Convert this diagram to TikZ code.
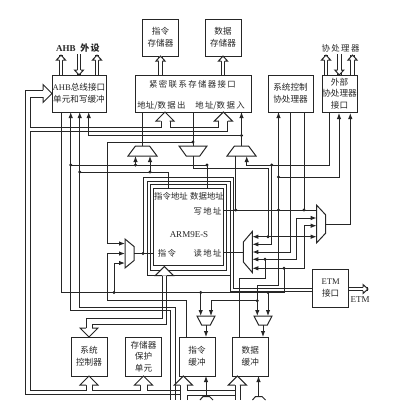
\documentclass[tikz,border=0pt]{standalone}
\usepackage{fontspec}
\setmainfont{Liberation Serif}
\newfontfamily\cjk{Noto Sans CJK SC}
\usepackage{tikz}
\usetikzlibrary{positioning}
\usetikzlibrary{calc}
\usetikzlibrary{arrows.meta}
\usetikzlibrary{shapes.geometric}

\tikzset{
    wire/.style={draw=black!85, line width=1pt},
    wirearrow/.style={wire, -{Latex[length=6pt,width=4.5pt]}},
    wireboth/.style={wire, {Latex[length=6pt,width=4.5pt]}-{Latex[length=6pt,width=4.5pt]}},
    hollowshaft/.style={wire, double, double distance=2.5pt},
    blockbox/.style={wire, rectangle, inner sep=0pt, outer sep=0pt, align=center, text=black!85, font=\cjk\fontsize{8.6}{11.6}\selectfont},
    lab/.style={inner sep=0pt, outer sep=0pt, align=center, text=black!85, font=\cjk\fontsize{8.4}{11}\selectfont},
    junct/.style={circle, fill=black!90, inner sep=0pt, outer sep=0pt, minimum size=3.2pt},
    muxbox/.style={wire, trapezium, trapezium stretches=true, inner sep=1pt, outer sep=0pt, trapezium left angle=62, trapezium right angle=62},
    bigtip/.pic={\draw[wire, fill=white, line join=miter] (-#1,9) -- (-9,9) -- (0,0) -- (9,9) -- (#1,9);},
    smalltip/.pic={\draw[wire, fill=white, line join=miter] (-1.75,5) -- (-4.5,5) -- (0,0) -- (4.5,5) -- (1.75,5);},
}

\begin{document}
\begin{tikzpicture}[x=1pt, y=-1pt]
    \useasboundingbox (0,0) rectangle (415,400);

    % blocks
    \node[blockbox, minimum width=54pt, minimum height=37pt] (ahb) at (79,93.5) {{\rmfamily AHB}总线接口\\单元和写缓冲};
    \node[blockbox, minimum width=116pt, minimum height=37pt, right=29pt of ahb] (tcm) {};
    \node[blockbox, minimum width=45pt, minimum height=37pt, right=17pt of tcm] (syscp) {系统控制\\协处理器};
    \node[blockbox, minimum width=35pt, minimum height=37pt, right=9pt of syscp] (extcp) {外部\\协处理器\\接口};
    \node[blockbox, minimum width=36pt, minimum height=37pt] (imem) at (160.5,37.5) {指令\\存储器};
    \node[blockbox, minimum width=36pt, minimum height=37pt, right=26.5pt of imem] (dmem) {数据\\存储器};
    \node[blockbox, minimum width=70pt, minimum height=77pt] (arm) at (188,226.5) {};
    \node[blockbox, minimum width=36pt, minimum height=39pt] (sysctl) at (89,356.5) {系统\\控制器};
    \node[blockbox, minimum width=36pt, minimum height=39pt, right=18.5pt of sysctl] (mpu) {存储器\\保护\\单元};
    \node[blockbox, minimum width=36pt, minimum height=39pt, right=17.5pt of mpu] (icache) {指令\\缓冲};
    \node[blockbox, minimum width=36pt, minimum height=39pt, right=17.3pt of icache] (dcache) {数据\\缓冲};
    \node[blockbox, minimum width=36pt, minimum height=38pt] (etm) at (330.7,288) {{\rmfamily ETM}\\接口};

    % labels
    \node[lab, font=\rmfamily\bfseries\fontsize{9}{11}\selectfont] (ahblab) at (78,48) {AHB\ \ {\cjk 外\,设}};
    \node[lab] (cplab) at (340.5,48) {协\,处\,理\,器};
    \node[lab] (tcmlab) at (192.5,84) {紧\,密\,联\,系\,存\,储\,器\,接\,口};
    \node[lab] (tcmout) at (161.5,106) {地址/数\,据\,出};
    \node[lab] (tcmin) at (220,106) {地\,址/数\,据\,入};
    \node[lab] (armia) at (171,196) {指令地址};
    \node[lab] (armda) at (207,196) {数据地址};
    \node[lab] (armwr) at (207.5,211) {写\,地\,址};
    \node[lab, font=\rmfamily\fontsize{9}{11}\selectfont] (armname) at (189,235) {ARM9E-S};
    \node[lab] (armins) at (167,253) {指\,令};
    \node[lab] (armrd) at (207.5,253) {读\,地\,址};
    \node[lab, font=\rmfamily\fontsize{9}{12}\selectfont] (etmlab) at (360,299.5) {ETM};

    % muxes
    \node[muxbox, minimum width=29pt, minimum height=10pt] (mux1) at (142.5,151) {};
    \node[muxbox, minimum width=28pt, minimum height=10pt, rotate=180] (mux2) at (193,151) {};
    \node[muxbox, minimum width=29pt, minimum height=10pt] (mux3) at (241.5,151) {};
    \node[muxbox, minimum width=29pt, minimum height=9pt, rotate=-90] (muxl) at (129.5,253.5) {};
    \node[muxbox, minimum width=41pt, minimum height=9pt, rotate=90] (muxr) at (247.8,252) {};
    \node[muxbox, minimum width=37.5pt, minimum height=9pt, rotate=-90] (muxe) at (321.2,224) {};
    \node[muxbox, minimum width=18pt, minimum height=9pt, rotate=180] (muxi) at (206,320.5) {};
    \node[muxbox, minimum width=18pt, minimum height=9pt, rotate=180] (muxd) at (263,320.5) {};

    % junctions
    \node[junct] (ja) at (70.7,165) {};
    \node[junct] (jb) at (135.5,165) {};
    \node[junct] (jc) at (207,165) {};
    \node[junct] (jd) at (79.7,172) {};
    \node[junct] (je) at (150,172) {};
    \node[junct] (jf) at (193,142) {};
    \node[junct] (jg) at (241.5,135.5) {};
    \node[junct] (jh) at (271.7,165) {};
    \node[junct] (ji) at (278.5,177) {};
    \node[junct] (jk) at (143,253.5) {};
    \node[junct] (jl) at (114,292.5) {};
    \node[junct] (jm) at (200.7,292.5) {};
    \node[junct] (jn) at (268,292.5) {};
    \node[junct] (jo) at (257.3,300.7) {};
    \node[junct] (jp) at (235.7,210) {};
    \node[junct] (jq) at (278.5,210) {};
    \node[junct] (jr) at (304,210) {};
    \node[junct] (js) at (268,236.7) {};
    \node[junct] (jt) at (265,259.3) {};
    \node[junct] (ju) at (284,268.3) {};

    % free ends
    \coordinate (muxla) at (muxl.south |- 0,243.5);
    \coordinate (muxlb) at (muxl.south);
    \coordinate (muxlc) at (muxl.south |- 0,263);
    \coordinate (muxra) at (muxr.south |- js);
    \coordinate (muxrb) at (muxr.south |- 0,244.3);
    \coordinate (muxrc) at (muxr.south);
    \coordinate (muxrd) at (muxr.south |- jt);
    \coordinate (muxre) at (muxr.south |- ju);
    \coordinate (muxea) at (muxe.south |- 0,218);
    \coordinate (muxeb) at (muxe.south |- 0,225.7);
    \coordinate (muxec) at (muxe.south |- js);
    \coordinate (muxew) at (muxe.south |- jp);
    \coordinate (etmb) at (etm.west |- 0,291);
    \coordinate (cuta) at (170.7,400);
    \coordinate (cutb) at (175.3,400);
    \coordinate (cutc) at (180,400);
    \coordinate (cutd) at (187,400);
    \coordinate (cute) at (235,400);
    \coordinate (cutf) at (240,400);
    \coordinate (cutg) at (206,396.5);
    \coordinate (cuth) at (258.5,396.5);
    \coordinate (tipahb) at (ahb.west);
    \coordinate (tipta) at (165,112);
    \coordinate (tiptb) at (223.3,112);
    \coordinate (tiparm) at (164.3,266.5);
    \coordinate (tipctl) at (89,337);
    \coordinate (tipsys) at (89,376);
    \coordinate (tipmpu) at (143.5,376);
    \coordinate (tipic) at (183.3,376);
    \coordinate (tipdc) at (237.3,376);

    % core frames
    \draw[wire] (150,184) rectangle (226.5,270);
    \draw[wire] (147,181) rectangle (230,275);
    \draw[wire] (230,275) |- (etmb);
    \draw[wire] (muxl.north) -- (arm.west |- muxl.north);
    \draw[wire] (jk.center) -- (143,177) -| (233,288) -- (etm.west);

    % buses
    \draw[wire] (43,90) -- (25,90) -- (25,394) -- (180,394);
    \draw[wire] (43,97) -- (30,97) -- (30,127) -- (161,127) -- (161,121);
    \draw[wire] (170,121) -- (170,127) -- (218,127) -- (218,121);
    \draw[wire] (86,385) -- (86,390) -- (30,390) -- (30,131) -- (227,131) -- (227,121);
    \draw[wire] (92,385) -- (92,390) -- (140,390) -- (140,385);
    \draw[wire] (147,385) -- (147,390) -- (180,390);
    \draw[wire] (180,385) -- (cutc);
    \draw[wire] (187,385) -- (187,390) -- (235,390);
    \draw[wire] (cutd) -- (187,395) -- (235,395);
    \draw[wire] (235,385) -- (cute);
    \draw[wire] (240,385) -- (cutf);
    \draw[wire] (162,276) -- (162,318.5) -- (86,318.5) -- (86,328);
    \draw[wire] (166.7,276) -- (166.7,324) -- (92,324) -- (92,328);

    % wires
    \draw[wire] (ahb.south -| 61.7,0) |- (jn.center) -| (ju.center);
    \draw[wirearrow] (ja.center) -- (ja |- ahb.south);
    \draw[wirearrow] (jd.center) -- (jd |- ahb.south);
    \draw[wire] (ja.center) -- (70.7,310) -| (cuta);
    \draw[wire] (jd.center) -- (79.7,307) -| (cutb);
    \draw[wirearrow] (jg.center) -| (88.7,112);
    \draw[wire] (ja.center) -- (jc.center);
    \draw[wire] (jd.center) -| (arm.north -| 168,0);
    \draw[wirearrow] (jb.center) -- (jb |- mux1.south);
    \draw[wirearrow] (je.center) -- (je |- mux1.south);
    \draw[wire] (mux1.north) -- (mux1 |- tcm.south);
    \draw[wire] (mux2 |- tcm.south) -- (mux2.south);
    \draw[wire] (jc.center) -- (jc |- arm.north);
    \draw[wire] (mux2.north) |- (268,168.5) -- (js.center);
    \draw[wirearrow] (jf.center) -- (107,142) |- (muxla);
    \draw[wirearrow] (186.7,338) |- (107,300.7) |- (muxlb);
    \draw[wirearrow] (jl.center) |- (muxlc);
    \draw[wirearrow] (mux3.north) -- (mux3 |- tcm.south);
    \draw[wire] (jp.center) -- (235.7,156);
    \draw[wirearrow] (329,113) |- (246.7,165) -- (246.7,156);
    \draw[wirearrow] (jh.center) |- (muxrb);
    \draw[wirearrow] (ji.center) -| (339,113);
    \draw[wirearrow] (ji.center) -- (ji |- syscp.south);
    \draw[wirearrow] (ji.center) -- (278.5,285) -| (257.3,316);
    \draw[wirearrow] (jo.center) -| (211,316);
    \draw[wirearrow] (jm.center) -- (jm |- muxi.south);
    \draw[wirearrow] (jn.center) -- (jn |- muxd.south);
    \draw[wirearrow] (muxi.north) -- (muxi |- icache.north);
    \draw[wirearrow] (muxd.north) -- (muxd |- dcache.north);
    \draw[wirearrow] (cutg) -- (cutg |- icache.south);
    \draw[wirearrow] (cuth) -- (cuth |- dcache.south);
    \draw[wire] (arm.east |- jp) -- (muxew);
    \draw[wire] (jr.center) -- (jr |- syscp.south);
    \draw[wirearrow] (290.5,113) |- (muxrc);
    \draw[wire] (muxr.north) -- (arm.east |- muxr.north);
    \draw[wireboth] (muxra) -- (muxec);
    \draw[wireboth] (muxrd) -- (296.7,259.3) |- (muxea);
    \draw[wireboth] (muxre) -- (304,268.3) |- (muxeb);
    \draw[wire] (jt.center) -- (265,278) -| (239.3,338);
    \draw[wirearrow] (muxe.north) -| (350.3,113);

    % bottom stubs
    \draw[wire] (200,400) -- (203,396.5) -- (209.5,396.5) -- (213,400);
    \draw[wire] (252.5,400) -- (255.5,396.5) -- (262,396.5) -- (265.5,400);

    % hollow arrows
    \draw[hollowshaft] (ahb.north -| 61,0) -- (61,55);
    \pic at (61,55) {smalltip};
    \draw[hollowshaft] (ahb.north -| 97,0) -- (97,55);
    \pic at (97,55) {smalltip};
    \draw[hollowshaft] (79,54) -- (79,75);
    \pic[rotate=180] at (79,75) {smalltip};
    \draw[hollowshaft] (tcm.north -| imem) -- (imem.south);
    \pic at (imem.south) {smalltip};
    \draw[hollowshaft] (tcm.north -| dmem) -- (dmem.south);
    \pic at (dmem.south) {smalltip};
    \draw[hollowshaft] (extcp.north -| 326,0) -- (326,55);
    \pic at (326,55) {smalltip};
    \draw[hollowshaft] (extcp.north -| 352.5,0) -- (352.5,55);
    \pic at (352.5,55) {smalltip};
    \draw[hollowshaft] (339.3,54) -- (339.3,75);
    \pic[rotate=180] at (339.3,75) {smalltip};
    \draw[hollowshaft] (etm.east |- 0,289) -- (368,289);
    \pic[rotate=-90] at (368,289) {smalltip};
    \pic[rotate=-90] at (tipahb) {bigtip=3.5};
    \pic at (tipta) {bigtip=4.5};
    \pic at (tiptb) {bigtip=4.5};
    \pic at (tiparm) {bigtip=2.3};
    \pic[rotate=180] at (tipctl) {bigtip=3};
    \pic at (tipsys) {bigtip=3};
    \pic at (tipmpu) {bigtip=3.5};
    \pic at (tipic) {bigtip=3.5};
    \pic at (tipdc) {bigtip=2.5};

\end{tikzpicture}
\end{document}
